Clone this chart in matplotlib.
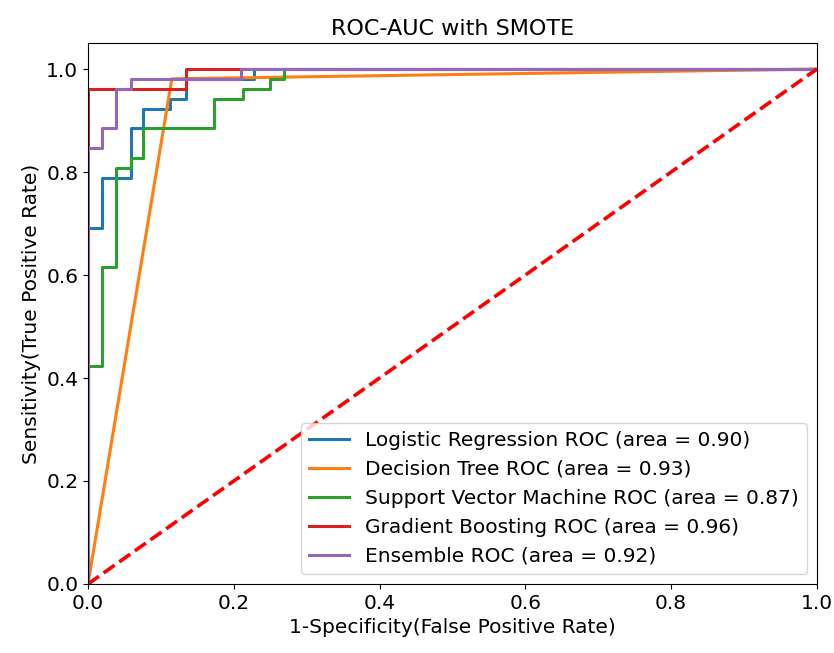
import matplotlib
matplotlib.use("Agg")
import matplotlib.pyplot as plt

# ROC curve points
lr_fpr = [0.0, 0.0, 0.0197, 0.0197, 0.0585, 0.0585, 0.076, 0.076, 0.113, 0.113, 0.134, 0.134, 0.228, 0.228, 1.0]
lr_tpr = [0.0, 0.692, 0.692, 0.788, 0.788, 0.885, 0.885, 0.923, 0.923, 0.942, 0.942, 0.981, 0.981, 1.0, 1.0]

dt_fpr = [0.0, 0.115, 1.0]
dt_tpr = [0.0, 0.981, 1.0]

svm_fpr = [0.0, 0.0, 0.019, 0.019, 0.038, 0.038, 0.0585, 0.0585, 0.076, 0.076, 0.173, 0.173,
           0.212, 0.212, 0.25, 0.25, 0.269, 0.269, 1.0]
svm_tpr = [0.0, 0.423, 0.423, 0.615, 0.615, 0.808, 0.808, 0.827, 0.827, 0.885, 0.885, 0.942,
           0.942, 0.962, 0.962, 0.981, 0.981, 1.0, 1.0]

gb_fpr = [0.0, 0.0, 0.134, 0.134, 1.0]
gb_tpr = [0.0, 0.962, 0.962, 1.0, 1.0]

ens_fpr = [0.0, 0.0, 0.019, 0.019, 0.038, 0.038, 0.0585, 0.0585, 0.21, 0.21, 1.0]
ens_tpr = [0.0, 0.846, 0.846, 0.885, 0.885, 0.962, 0.962, 0.981, 0.981, 1.0, 1.0]

names = ["Logistic Regression", "Decision Tree", "Support Vector Machine", "Gradient Boosting", "Ensemble"]
aucs = [0.90, 0.93, 0.87, 0.96, 0.92]
colors = ["tab:blue", "tab:orange", "tab:green", "#dc1f1f", "tab:purple"]

plt.rcParams["font.size"] = 14.5

fig = plt.figure(figsize=(8.34, 6.53), dpi=100)
ax = fig.add_axes([0.1055, 0.1057, 0.874, 0.828])

curves = [(lr_fpr, lr_tpr), (dt_fpr, dt_tpr), (svm_fpr, svm_tpr), (gb_fpr, gb_tpr), (ens_fpr, ens_tpr)]
for (fpr, tpr), name, auc, c in zip(curves, names, aucs, colors):
    ax.plot(fpr, tpr, color=c, lw=2.2, label=f"{name} ROC (area = {auc:.2f})")

ax.plot([0, 1], [0, 1], "r--", lw=2.6)

ax.set_xlim(0.0, 1.0)
ax.set_ylim(0.0, 1.05)
ax.set_xlabel("1-Specificity(False Positive Rate)")
ax.set_ylabel("Sensitivity(True Positive Rate)")
ax.set_title("ROC-AUC with SMOTE", fontsize=16)
ax.legend(loc="lower right")

fig.savefig("out.png", dpi=100)
